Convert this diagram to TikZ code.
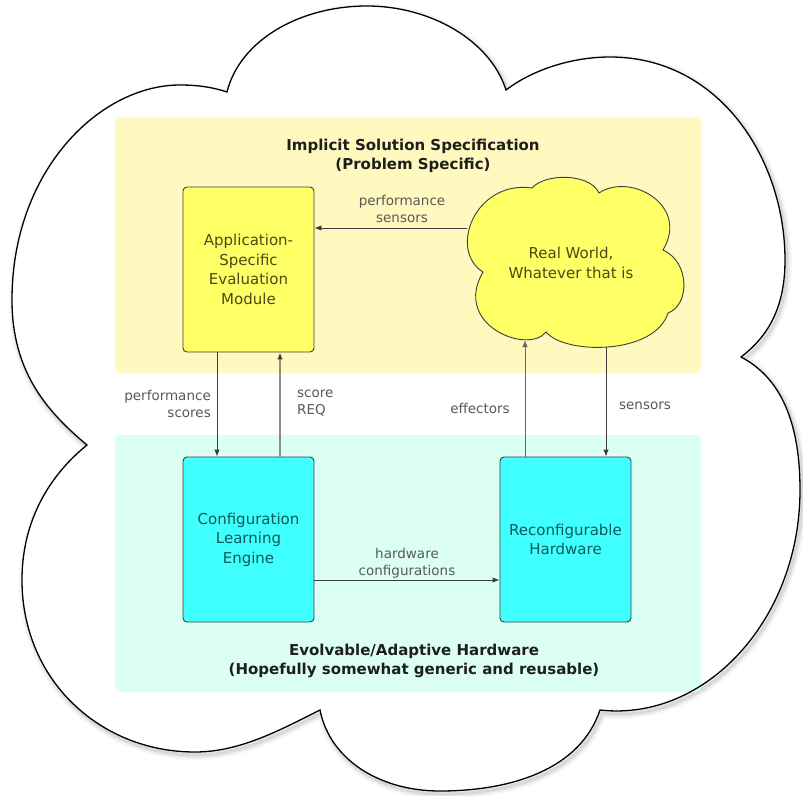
\documentclass[tikz,border=0pt]{standalone}
\usepackage{fontspec}
\setmainfont{DejaVu Sans}
\usetikzlibrary{arrows.meta}

\definecolor{panelyellow}{HTML}{FFF8BF}
\definecolor{panelcyan}{HTML}{DCFFF5}
\definecolor{boxyellow}{HTML}{FFFF66}
\definecolor{boxcyan}{HTML}{40FFFF}
\definecolor{edge}{HTML}{3D3D3D}
\definecolor{olivetext}{HTML}{4A4A14}
\definecolor{tealtext}{HTML}{0B5A5A}
\definecolor{labelgrey}{HTML}{595959}
\definecolor{titletext}{HTML}{1E1E1E}

% outer cloud outline: six puffs meeting in sharp notches
\newcommand\bigcloudpath{
  (227,92) .. controls (240,40) and (300,6) .. (367,6)
           .. controls (430,6) and (490,40) .. (506,90)
           .. controls (535,68) and (575,57) .. (610,57)
           .. controls (720,57) and (785,160) .. (785,260)
           .. controls (785,305) and (770,335) .. (741,357)
           .. controls (785,380) and (800,430) .. (800,490)
           .. controls (800,620) and (705,722) .. (600,710)
           .. controls (580,770) and (510,791) .. (440,791)
           .. controls (380,791) and (330,760) .. (320,710)
           .. controls (280,730) and (240,752) .. (195,752)
           .. controls (100,752) and (22,680) .. (22,580)
           .. controls (22,520) and (50,475) .. (87,445)
           .. controls (45,410) and (12,370) .. (12,300)
           .. controls (12,170) and (100,85) .. (180,85)
           .. controls (200,85) and (215,88) .. (227,92) -- cycle
}

% the small "real world" cloud
\newcommand\worldcloudpath{
  (483,272) .. controls (448,250) and (475,180) .. (532,188)
            .. controls (545,173) and (590,173) .. (599,193)
            .. controls (630,172) and (690,205) .. (663,250)
            .. controls (690,262) and (690,305) .. (668,313)
            .. controls (655,355) and (565,355) .. (546,332)
            .. controls (528,355) and (452,325) .. (483,272) -- cycle
}

\tikzset{
  unitbox/.style={draw=edge, line width=0.9pt, rounded corners=4pt,
    minimum width=131pt, minimum height=165pt, inner sep=2pt, align=center,
    font=\fontsize{15}{19.5}\selectfont},
  evalbox/.style={unitbox, fill=boxyellow, text=olivetext},
  hwbox/.style={unitbox, fill=boxcyan, text=tealtext},
  paneltitle/.style={align=center, text=titletext,
    font=\bfseries\fontsize{15}{19.5}\selectfont},
  flowlabel/.style={text=labelgrey, inner sep=0pt,
    font=\fontsize{13.5}{17}\selectfont},
  flow/.style={draw=edge, line width=0.9pt,
    -{Latex[length=7pt,width=5.5pt]}},
  reqflow/.style={draw=black!45, line width=1.5pt,
    -{Latex[length=7pt,width=5.5pt,color=edge]}},
}

\begin{document}
\begin{tikzpicture}[x=1pt,y=-1pt]
  \useasboundingbox (0,0) rectangle (803,795);

  % soft shadow under the outer cloud
  \begin{scope}[shift={(2,3)}]
    \draw[line width=10pt, black, opacity=0.035, line join=round] \bigcloudpath;
    \draw[line width=6pt, black, opacity=0.05, line join=round] \bigcloudpath;
    \draw[line width=3pt, black, opacity=0.07, line join=round] \bigcloudpath;
  \end{scope}
  \fill[white] \bigcloudpath;

  % the two regions
  \fill[panelyellow, rounded corners=5pt] (115,117) rectangle (701,373);
  \fill[panelcyan, rounded corners=5pt] (115,435) rectangle (701,692);

  \draw[line width=1.3pt, black] \bigcloudpath;

  \node[paneltitle] (spec) at (413,156) {Implicit Solution Specification\\(Problem Specific)};
  \node[paneltitle] (evo) at (414,661) {Evolvable/Adaptive Hardware\\(Hopefully somewhat generic and reusable)};

  % units
  \node[evalbox] (aem) at (248.5,269.5) {Application-\\Specific\\Evaluation\\Module};
  \node[hwbox] (cle) at (248.5,539.5) {Configuration\\Learning\\Engine};
  \node[hwbox] (rh) at (565.5,539.5) {Reconfigurable\\Hardware};

  % the world
  \draw[draw=edge, line width=0.9pt, fill=boxyellow] \worldcloudpath;
  \node[align=center, text=olivetext, font=\fontsize{15}{19.5}\selectfont] (rw) at (571,263) {Real World,\\Whatever that is};
  \coordinate (rwW) at (466.5,228);
  \coordinate (rwEff) at (525,340);
  \coordinate (rwSen) at (606,346.5);

  % connectors
  \draw[flow] (rwW) -- (aem.east |- rwW);
  \draw[flow] ([xshift=-31.5pt]aem.south) -- ([xshift=-31.5pt]cle.north);
  \draw[reqflow] ([xshift=31.5pt]cle.north) -- ([xshift=31.5pt]aem.south);
  \draw[flow] ([yshift=-40.5pt]cle.east) -- ([yshift=-40.5pt]rh.west);
  \draw[flow, draw=black!60] (rh.north -| rwEff) -- (rwEff);
  \draw[flow] (rwSen) -- (rh.north -| rwSen);

  % connector labels
  \node[flowlabel, align=center] (lps) at (402,209) {performance\\sensors};
  \node[flowlabel, align=right, anchor=east] (lpsc) at (211,404) {performance\\scores};
  \node[flowlabel, align=left, anchor=west] (lreq) at (297,403) {score\\REQ};
  \node[flowlabel] (leff) at (480,408) {effectors};
  \node[flowlabel] (lsen) at (645,406) {sensors};
  \node[flowlabel, align=center] (lhw) at (407,563) {hardware\\configurations};
\end{tikzpicture}
\end{document}
